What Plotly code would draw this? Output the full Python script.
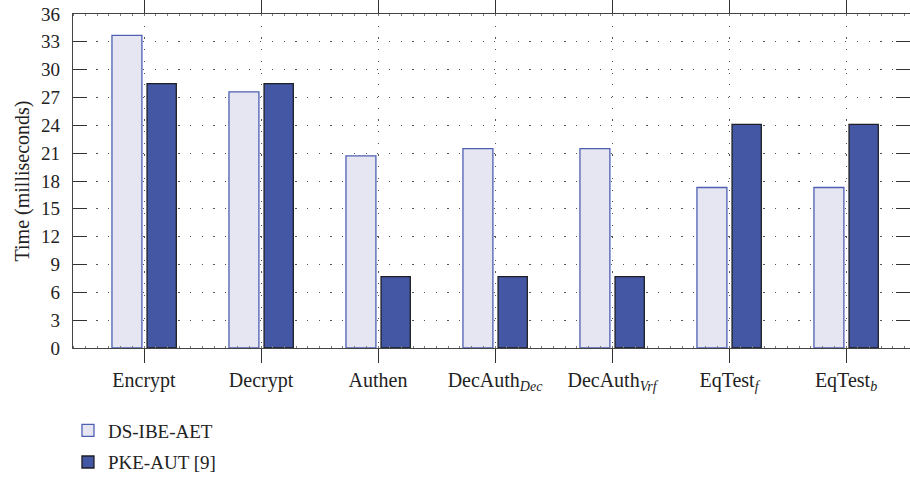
import plotly.graph_objects as go

categories = ["Encrypt", "Decrypt", "Authen", "DecAuth<sub><i>Dec</i></sub>",
              "DecAuth<sub><i>Vrf</i></sub>", "EqTest<sub><i>f</i></sub>", "EqTest<sub><i>b</i></sub>"]
ds_ibe_aet = [33.7, 27.6, 20.7, 21.5, 21.5, 17.3, 17.3]
pke_aut = [28.5, 28.5, 7.7, 7.7, 7.7, 24.1, 24.1]
y_ticks = list(range(0, 37, 3))

xpos = list(range(len(categories)))
FONT = "Liberation Serif"
FS = 20

fig = go.Figure()
fig.add_trace(go.Bar(
    x=xpos, y=ds_ibe_aet, name="DS-IBE-AET",
    width=0.256, offset=-0.274,
    marker=dict(color="#e6e5f2", line=dict(color="#4e5fb2", width=1.3)),
    legendgroup="a",
))
fig.add_trace(go.Bar(
    x=xpos, y=pke_aut, name="PKE-AUT [9]",
    width=0.25, offset=0.026,
    marker=dict(color="#4357a5", line=dict(color="#1e1e24", width=1.3)),
    legendgroup="b",
))
# invisible trace for right-side mirrored y ticks
fig.add_trace(go.Scatter(x=[0], y=[0], yaxis="y2", mode="markers",
                         marker=dict(opacity=0), showlegend=False, hoverinfo="skip"))

fig.update_layout(
    width=910, height=477,
    margin=dict(l=73, r=0, t=14, b=129, autoexpand=False),
    paper_bgcolor="white", plot_bgcolor="white",
    barmode="overlay",
    font=dict(family=FONT, size=FS, color="#222"),
    showlegend=True,
    legend=dict(x=-0.006, y=-0.19, xanchor="left", yanchor="top",
                font=dict(family=FONT, size=FS - 1, color="#222"),
                traceorder="grouped", tracegroupgap=4,
                bgcolor="rgba(0,0,0,0)"),
    xaxis=dict(
        range=[-0.607, 6.547],
        tickmode="array", tickvals=xpos, ticktext=categories,
        ticks="outside", ticklen=14, tickwidth=1.3, tickcolor="#333",
        showline=True, linecolor="#444", linewidth=1.3, mirror="ticks",
        showgrid=True, gridcolor="#555", gridwidth=1, griddash="1.2px,10.5px",
        zeroline=False,
        tickfont=dict(family=FONT, size=FS, color="#222"),
        minor=dict(dtick=0.1, tick0=0, ticks="inside", ticklen=2, tickcolor="#777", tickwidth=1),
    ),
    yaxis=dict(
        range=[0, 36],
        tickmode="array", tickvals=y_ticks,
        ticks="inside", ticklen=14, tickwidth=1.3, tickcolor="#333",
        showline=True, linecolor="#444", linewidth=1.3,
        showgrid=True, gridcolor="#555", gridwidth=1, griddash="1.2px,10.5px",
        zeroline=False,
        ticklabelstandoff=8,
        tickfont=dict(family=FONT, size=FS - 1, color="#222"),
        title=dict(text="Time (milliseconds)", standoff=6,
                   font=dict(family=FONT, size=FS, color="#222")),
    ),
    yaxis2=dict(
        range=[0, 36], overlaying="y", side="right",
        tickmode="array", tickvals=y_ticks,
        ticks="inside", ticklen=14, tickwidth=1.3, tickcolor="#333",
        showticklabels=False, showline=False, showgrid=False, zeroline=False,
    ),
)

fig.write_html("out.html")
